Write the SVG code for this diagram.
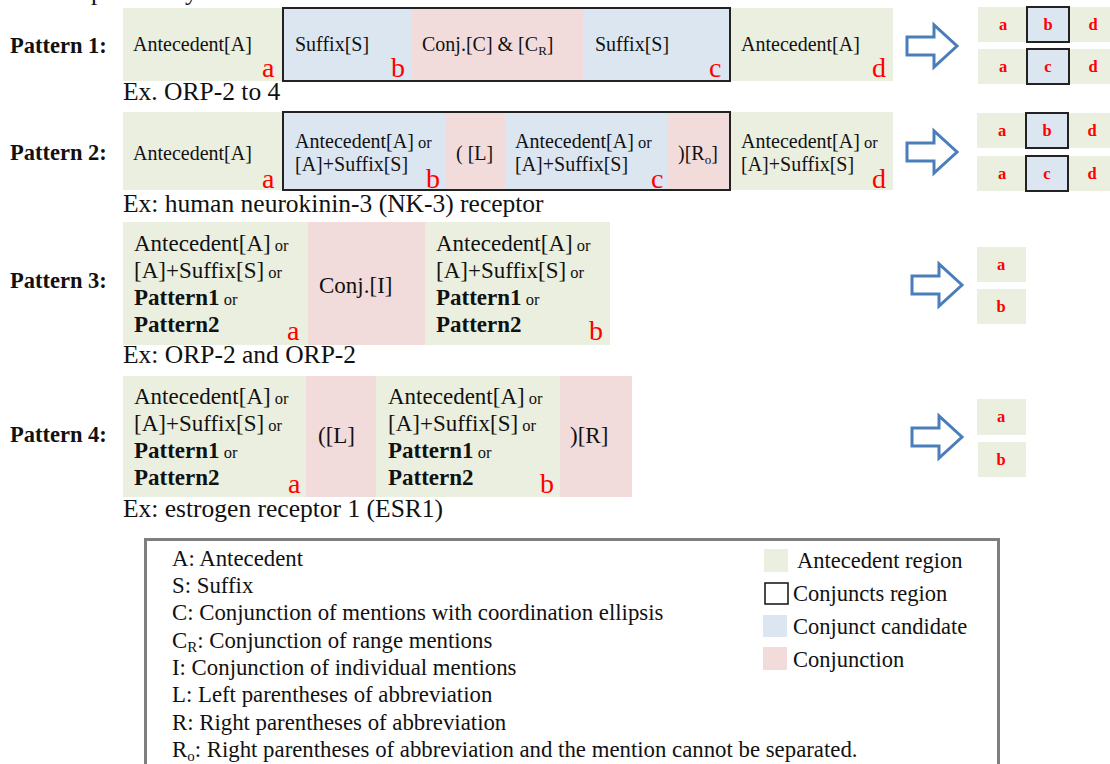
<svg xmlns="http://www.w3.org/2000/svg" width="1110" height="764" viewBox="0 0 1110 764">
<style>
text{font-family:"Liberation Serif","Times New Roman",serif;fill:#111}
.lbl{font-size:22.5px;font-weight:bold}
.t{font-size:20px}
.t2{font-size:23px}
.or{font-size:16.5px}
.b{font-weight:bold}
.ex{font-size:25.5px}
.red{fill:#ff0000;font-size:28px}
.sr{fill:#ff0000;font-size:16.5px;font-weight:bold;text-anchor:middle}
.lg{font-size:22.8px}
.lg2{font-size:22.5px}
.g{fill:#ebefdf}
.bl{fill:#dce6f1}
.pk{fill:#f2dcdb}
.cr{fill:none;stroke:#222;stroke-width:2}
.arr{fill:#fff;stroke:#4a7ebb;stroke-width:3;stroke-linejoin:miter}
</style>
<defs>
<path id="arrow" d="M0,-9 L27,-9 L27,-21 L50,0 L27,21 L27,9 L0,9 Z"/>
</defs>
<text x="-4" y="0" class="ex">and be separated by</text>

<g id="pattern1">
<text x="10" y="53" class="lbl">Pattern 1:</text>
<rect class="g" x="123" y="8" width="160" height="73"/>
<rect class="bl" x="283" y="8" width="129" height="73"/>
<rect class="pk" x="412" y="8" width="171" height="73"/>
<rect class="bl" x="583" y="8" width="147" height="73"/>
<rect class="g" x="730" y="8" width="163" height="73"/>
<rect class="cr" x="283" y="8" width="447" height="73"/>
<text x="133" y="51" class="t">Antecedent[A]</text>
<text x="295" y="51" class="t">Suffix[S]</text>
<text x="422" y="51" class="t">Conj.[C] &amp; [C<tspan font-size="13" dy="4">R</tspan><tspan dy="-4">]</tspan></text>
<text x="595" y="51" class="t">Suffix[S]</text>
<text x="741" y="51" class="t">Antecedent[A]</text>
<text x="262" y="77" class="red">a</text>
<text x="391" y="77" class="red">b</text>
<text x="709" y="77" class="red">c</text>
<text x="872" y="77" class="red">d</text>
<text x="123" y="100" class="ex">Ex. ORP-2 to 4</text>
</g>

<g id="pattern2">
<text x="10" y="160" class="lbl">Pattern 2:</text>
<rect class="g" x="123" y="112" width="160" height="78"/>
<rect class="bl" x="283" y="112" width="162" height="78"/>
<rect class="pk" x="445" y="112" width="60" height="78"/>
<rect class="bl" x="505" y="112" width="163" height="78"/>
<rect class="pk" x="668" y="112" width="62" height="78"/>
<rect class="g" x="730" y="112" width="163" height="78"/>
<rect class="cr" x="283" y="112" width="447" height="78"/>
<text x="133" y="160" class="t">Antecedent[A]</text>
<text x="295" y="148" class="t">Antecedent[A]<tspan class="or"> or</tspan></text>
<text x="295" y="171" class="t">[A]+Suffix[S]</text>
<text x="456" y="160" class="t">( [L]</text>
<text x="515" y="148" class="t">Antecedent[A]<tspan class="or"> or</tspan></text>
<text x="515" y="171" class="t">[A]+Suffix[S]</text>
<text x="678" y="160" class="t">)[R<tspan font-size="13" dy="4">o</tspan><tspan dy="-4">]</tspan></text>
<text x="741" y="148" class="t">Antecedent[A]<tspan class="or"> or</tspan></text>
<text x="741" y="171" class="t">[A]+Suffix[S]</text>
<text x="262" y="188" class="red">a</text>
<text x="426" y="188" class="red">b</text>
<text x="651" y="188" class="red">c</text>
<text x="872" y="188" class="red">d</text>
<text x="123" y="212" class="ex">Ex: human neurokinin-3 (NK-3) receptor</text>
</g>

<g id="pattern3">
<text x="10" y="288" class="lbl">Pattern 3:</text>
<rect class="g" x="123" y="222" width="185" height="123"/>
<rect class="pk" x="308" y="222" width="117" height="123"/>
<rect class="g" x="425" y="222" width="185" height="123"/>
<text x="134" y="251" class="t2">Antecedent[A]<tspan class="or"> or</tspan></text>
<text x="134" y="278" class="t2">[A]+Suffix[S]<tspan class="or"> or</tspan></text>
<text x="134" y="305" class="t2 b">Pattern1<tspan class="or" font-weight="normal"> or</tspan></text>
<text x="134" y="332" class="t2 b">Pattern2</text>
<text x="319" y="293" class="t2">Conj.[I]</text>
<text x="436" y="251" class="t2">Antecedent[A]<tspan class="or"> or</tspan></text>
<text x="436" y="278" class="t2">[A]+Suffix[S]<tspan class="or"> or</tspan></text>
<text x="436" y="305" class="t2 b">Pattern1<tspan class="or" font-weight="normal"> or</tspan></text>
<text x="436" y="332" class="t2 b">Pattern2</text>
<text x="287" y="340" class="red">a</text>
<text x="589" y="340" class="red">b</text>
<text x="123" y="363" class="ex">Ex: ORP-2 and ORP-2</text>
</g>

<g id="pattern4">
<text x="10" y="442" class="lbl">Pattern 4:</text>
<rect class="g" x="123" y="376" width="183" height="121"/>
<rect class="pk" x="306" y="376" width="70" height="121"/>
<rect class="g" x="376" y="376" width="184" height="121"/>
<rect class="pk" x="560" y="376" width="72" height="121"/>
<text x="134" y="404" class="t2">Antecedent[A]<tspan class="or"> or</tspan></text>
<text x="134" y="431" class="t2">[A]+Suffix[S]<tspan class="or"> or</tspan></text>
<text x="134" y="458" class="t2 b">Pattern1<tspan class="or" font-weight="normal"> or</tspan></text>
<text x="134" y="485" class="t2 b">Pattern2</text>
<text x="318" y="443" class="t2">([L]</text>
<text x="388" y="404" class="t2">Antecedent[A]<tspan class="or"> or</tspan></text>
<text x="388" y="431" class="t2">[A]+Suffix[S]<tspan class="or"> or</tspan></text>
<text x="388" y="458" class="t2 b">Pattern1<tspan class="or" font-weight="normal"> or</tspan></text>
<text x="388" y="485" class="t2 b">Pattern2</text>
<text x="570" y="443" class="t2">)[R]</text>
<text x="288" y="493" class="red">a</text>
<text x="540" y="493" class="red">b</text>
<text x="123" y="517" class="ex">Ex: estrogen receptor 1 (ESR1)</text>
</g>

<g id="connectors">
<use href="#arrow" class="arr" transform="translate(907,46)"/>
<use href="#arrow" class="arr" transform="translate(907,152)"/>
<use href="#arrow" class="arr" transform="translate(912,285)"/>
<use href="#arrow" class="arr" transform="translate(912,437)"/>
</g>

<g id="result1">
<rect class="g" x="978" y="7" width="132" height="35"/>
<rect class="bl" x="1027" y="7" width="42" height="35" stroke="#222" stroke-width="2"/>
<text x="1003" y="30" class="sr">a</text><text x="1048" y="30" class="sr">b</text><text x="1093" y="30" class="sr">d</text>
<rect class="g" x="978" y="49" width="132" height="35"/>
<rect class="bl" x="1027" y="49" width="42" height="35" stroke="#222" stroke-width="2"/>
<text x="1003" y="72" class="sr">a</text><text x="1048" y="72" class="sr">c</text><text x="1093" y="72" class="sr">d</text>
</g>

<g id="result2">
<rect class="g" x="977" y="113" width="133" height="35"/>
<rect class="bl" x="1026" y="113" width="42" height="35" stroke="#222" stroke-width="2"/>
<text x="1002" y="136" class="sr">a</text><text x="1047" y="136" class="sr">b</text><text x="1092" y="136" class="sr">d</text>
<rect class="g" x="977" y="156" width="133" height="35"/>
<rect class="bl" x="1026" y="156" width="42" height="35" stroke="#222" stroke-width="2"/>
<text x="1002" y="179" class="sr">a</text><text x="1047" y="179" class="sr">c</text><text x="1092" y="179" class="sr">d</text>
</g>

<g id="result3">
<rect class="g" x="977" y="247" width="49" height="35"/>
<text x="1001" y="270" class="sr">a</text>
<rect class="g" x="977" y="289" width="49" height="35"/>
<text x="1001" y="312" class="sr">b</text>
</g>

<g id="result4">
<rect class="g" x="977" y="399" width="49" height="36"/>
<text x="1001" y="422" class="sr">a</text>
<rect class="g" x="978" y="442" width="48" height="35"/>
<text x="1001" y="465" class="sr">b</text>
</g>

<g id="legend">
<rect x="145.5" y="539.5" width="853" height="240" fill="#fff" stroke="#7f7f7f" stroke-width="3"/>
<text x="172" y="566" class="lg">A: Antecedent</text>
<text x="172" y="593" class="lg">S: Suffix</text>
<text x="172" y="620" class="lg">C: Conjunction of mentions with coordination ellipsis</text>
<text x="172" y="648" class="lg">C<tspan font-size="15" dy="4">R</tspan><tspan dy="-4">: Conjunction of range mentions</tspan></text>
<text x="172" y="675" class="lg">I: Conjunction of individual mentions</text>
<text x="172" y="702" class="lg">L: Left parentheses of abbreviation</text>
<text x="172" y="730" class="lg">R: Right parentheses of abbreviation</text>
<text x="172" y="757" class="lg">R<tspan font-size="15" dy="4">o</tspan><tspan dy="-4">: Right parentheses of abbreviation and the mention cannot be separated.</tspan></text>
<rect class="g" x="764" y="549" width="24" height="23"/>
<text x="797" y="568" class="lg2">Antecedent region</text>
<rect x="765" y="583" width="23" height="21" fill="#fff" stroke="#111" stroke-width="1.5"/>
<text x="793" y="601" class="lg2">Conjuncts region</text>
<rect class="bl" x="763" y="615" width="24" height="22"/>
<text x="793" y="634" class="lg2">Conjunct candidate</text>
<rect class="pk" x="763" y="647" width="24" height="23"/>
<text x="793" y="667" class="lg2">Conjunction</text>
</g>
</svg>
